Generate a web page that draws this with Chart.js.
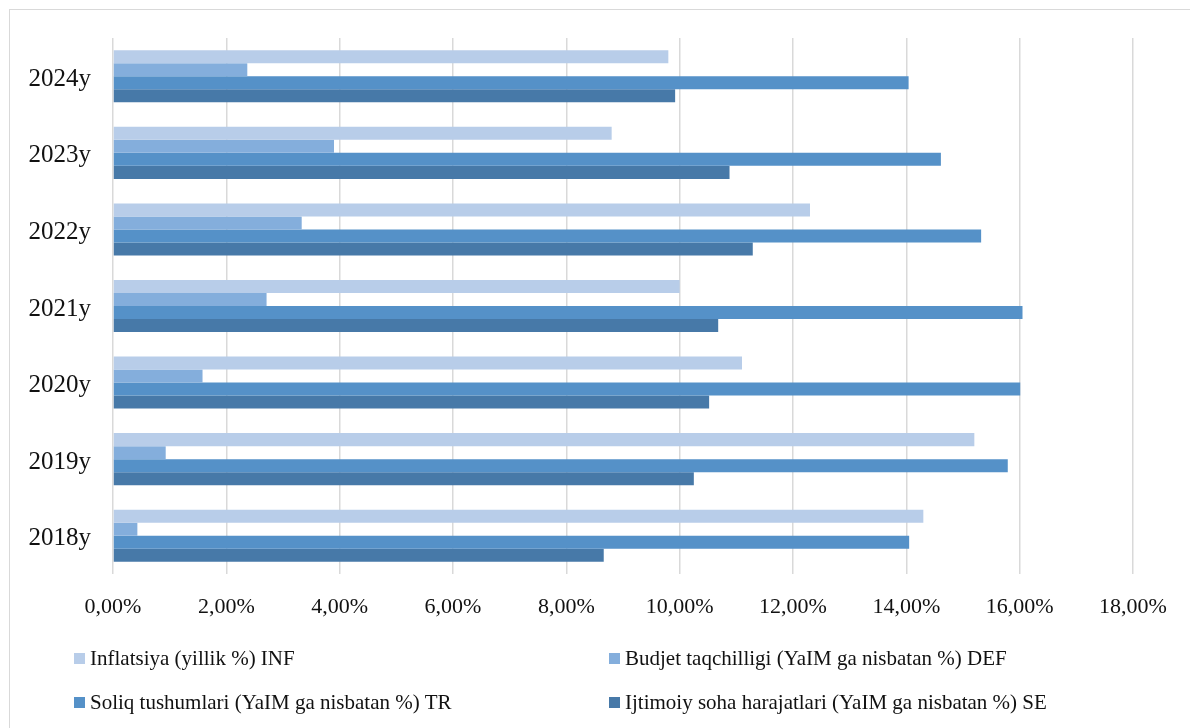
<!DOCTYPE html>
<html>
<head>
<meta charset="utf-8">
<script src="https://cdn.jsdelivr.net/npm/chart.js@4.4.1/dist/chart.umd.min.js"></script>
<style>
  html, body { margin: 0; padding: 0; background: #fff; }
  #wrap { position: relative; width: 1190px; height: 728px; overflow: hidden; }
  #frame { position: absolute; left: 9px; top: 9px; width: 1200px; height: 740px; border: 1px solid #d9d9d9; box-sizing: border-box; }
  canvas { position: absolute; left: 0; top: 0; }
  .leg { position: absolute; font-family: "Liberation Serif", serif; font-size: 21px; color: #111; white-space: nowrap; line-height: 24px; }
  .leg i { display: inline-block; width: 11px; height: 11px; margin-right: 5px; vertical-align: 1px; }
</style>
</head>
<body>
<div id="wrap">
  <div id="frame"></div>
  <canvas id="chart" width="1190" height="728"></canvas>
  <div id="legend"></div>
</div>
<script>
const years = ["2024y", "2023y", "2022y", "2021y", "2020y", "2019y", "2018y"];
const inflation = [9.8, 8.8, 12.3, 10.0, 11.1, 15.2, 14.3];
const deficit = [2.37, 3.9, 3.33, 2.71, 1.58, 0.93, 0.43];
const taxRevenue = [14.04, 14.61, 15.32, 16.05, 16.01, 15.79, 14.05];
const socialSpending = [9.92, 10.88, 11.29, 10.68, 10.52, 10.25, 8.66];
const seriesNames = [
  "Inflatsiya (yillik %) INF",
  "Budjet taqchilligi (YaIM ga nisbatan %) DEF",
  "Soliq tushumlari (YaIM ga nisbatan %) TR",
  "Ijtimoiy soha harajatlari (YaIM ga nisbatan %) SE",
];
const colors = ["#b8cde9", "#84aedc", "#5591c8", "#4779a8"];
const xTicks = [0, 2, 4, 6, 8, 10, 12, 14, 16, 18];

const makeSet = (i, values) => ({
  label: seriesNames[i],
  data: values,
  backgroundColor: colors[i],
  borderWidth: 0,
  categoryPercentage: 0.68,
  barPercentage: 1.0,
});

new Chart(document.querySelector("#chart"), {
  type: "bar",
  data: {
    labels: years,
    datasets: [
      makeSet(0, inflation),
      makeSet(1, deficit),
      makeSet(2, taxRevenue),
      makeSet(3, socialSpending),
    ],
  },
  options: {
    indexAxis: "y",
    responsive: false,
    animation: false,
    layout: { padding: { top: 38, right: 57, left: 0, bottom: 0 } },
    plugins: { legend: { display: false }, tooltip: { enabled: false } },
    scales: {
      x: {
        min: 0,
        max: 18,
        afterBuildTicks: (axis) => {
          axis.ticks = xTicks.map((v) => ({ value: v }));
        },
        afterFit: (scale) => { scale.height = 154; },
        grid: { color: "#d9d9d9", lineWidth: 1.5, drawTicks: false },
        border: { display: false },
        ticks: {
          padding: 20,
          color: "#111",
          font: { family: "Liberation Serif", size: 22 },
          callback: (v) => v.toFixed(2).replace(".", ",") + "%",
        },
      },
      y: {
        afterFit: (scale) => { scale.width = 113; },
        grid: { display: false, drawTicks: false },
        border: { display: false },
        ticks: {
          padding: 22,
          labelOffset: 3,
          color: "#111",
          font: { family: "Liberation Serif", size: 25 },
        },
      },
    },
  },
});

const legendPos = [
  [74, 646], [609, 646], [74, 690], [609, 690],
];
document.querySelector("#legend").innerHTML = seriesNames
  .map((name, i) => `<div class="leg" style="left:${legendPos[i][0]}px;top:${legendPos[i][1]}px"><i style="background:${colors[i]}"></i>${name}</div>`)
  .join("");
</script>
</body>
</html>
